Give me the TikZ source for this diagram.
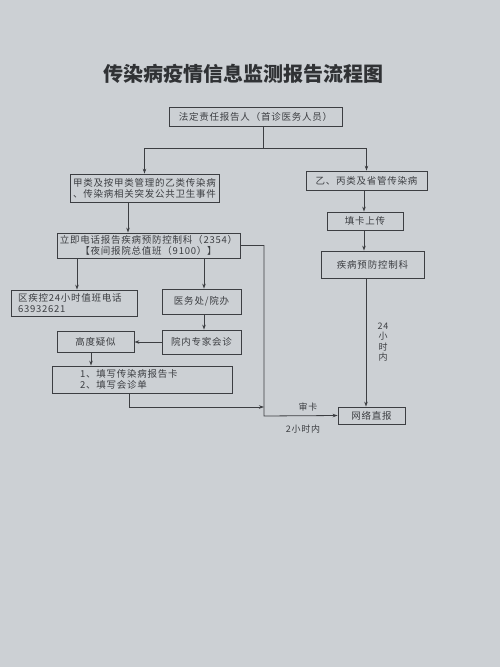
\documentclass[tikz,border=0pt]{standalone}
\usepackage{fontspec}
\newfontfamily\cjk{Noto Sans CJK SC}
\newfontfamily\cjkwide[LetterSpace=8]{Noto Sans CJK SC}
\usetikzlibrary{arrows.meta, calc}
\definecolor{paper}{RGB}{204,208,212}
\definecolor{ink}{RGB}{60,62,66}

\tikzset{
  box/.style={draw=ink, line width=0.8pt, text=ink, inner sep=2pt, align=center,
    font=\cjkwide\fontsize{9.5}{11}\selectfont},
  note/.style={text=ink, inner sep=1pt, font=\cjkwide\fontsize{9}{10.5}\selectfont},
  title/.style={text=ink!80!black, font=\cjk\bfseries\fontsize{20}{24}\selectfont}
}

\begin{document}
\begin{tikzpicture}[x=1pt, y=-1pt, color=ink, line width=0.8pt, >={Stealth[length=5pt, width=3.5pt]}]
  \fill[paper] (0,0) rectangle (500,667);
  \useasboundingbox (0,0) rectangle (500,667);

  \node[title] (title) at (243,74) {传染病疫情信息监测报告流程图};

  \node[box, minimum width=173, minimum height=19] (report) at (255.5,116.5) {法定责任报告人（首诊医务人员）};
  \node[box, minimum width=149, minimum height=28] (classA) at (144.5,188) {甲类及按甲类管理的乙类传染病\\、传染病相关突发公共卫生事件};
  \node[box, minimum width=121, minimum height=19] (classB) at (366.5,180.5) {乙、丙类及省管传染病};
  \node[box, minimum width=76, minimum height=18] (upload) at (365,221) {填卡上传};
  \node[box, minimum width=103, minimum height=27] (cdc) at (372.5,264.5) {疾病预防控制科};
  \node[box, minimum width=67, minimum height=17] (net) at (371.5,415.5) {网络直报};
  \node[box, minimum width=183, minimum height=25] (phone) at (148.5,245.5) {立即电话报告疾病预防控制科（2354）\\【夜间报院总值班（9100）】};
  \node[box, minimum width=126, minimum height=26, text width=112, align=left] (district) at (74,303) {区疾控24小时值班电话\\63932621};
  \node[box, minimum width=79, minimum height=25] (medical) at (201.5,301.5) {医务处/院办};
  \node[box, minimum width=79, minimum height=24] (expert) at (201.5,342) {院内专家会诊};
  \node[box, minimum width=77, minimum height=21] (suspect) at (95.5,341.5) {高度疑似};
  \node[box, minimum width=180, minimum height=27, text width=124, align=left] (fill) at (142,379.5) {1、填写传染病报告卡\\2、填写会诊单};

  \coordinate (split) at (263,148);
  \coordinate (bus) at (264,416);
  \coordinate (merge) at (264,407);

  \draw (report.south -| split) -- (split);
  \draw[->] (split) -| (classA.north);
  \draw[->] (split) -| (classB.north);
  \draw[->] (classB.south -| 364,0) -- (upload.north -| 364,0);
  \draw[->] (upload.south -| 364,0) -- (cdc.north -| 364,0);
  \draw[->] (cdc.south -| 366,0) -- (net.north -| 366,0);
  \node[note, align=center] (hours24) at (383,342) {24\\小\\时\\内};

  \draw[->] (classA.south -| 128,0) -- (phone.north -| 128,0);
  \draw[->] (phone.south -| 77,0) -- (district.north -| 77,0);
  \draw[->] (phone.south -| 204,0) -- (medical.north -| 204,0);
  \draw[->] (medical.south -| 204,0) -- (expert.north -| 204,0);
  \draw[->] (expert.west) -- (expert.west -| suspect.east);
  \draw[->] (suspect.south -| 91,0) -- (fill.north -| 91,0);
  \draw[->] (fill.south -| 129,0) |- (merge);
  \draw[->] (phone.east) -| (bus) -- (net.west);
  \node[note] (review) at (308,407) {审卡};
  \node[note] (hours2) at (303,429) {2小时内};
\end{tikzpicture}
\end{document}
